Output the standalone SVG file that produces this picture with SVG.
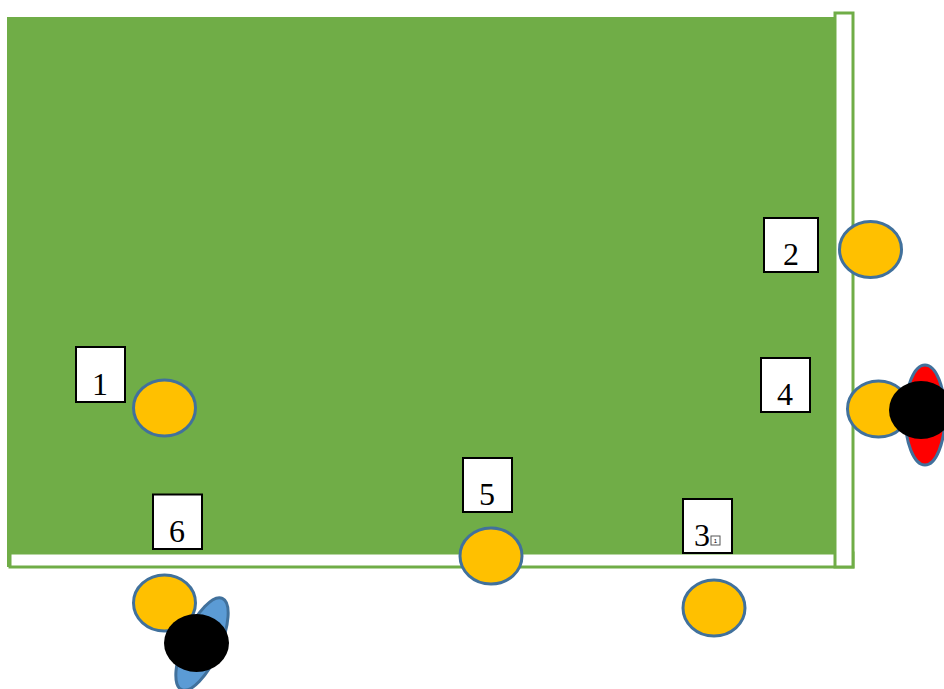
<svg xmlns="http://www.w3.org/2000/svg" width="944" height="689" viewBox="0 0 944 689">
<style>
.label{fill:#fff;stroke:#000;stroke-width:2}
.num{font-family:"Liberation Serif",serif;font-size:32px;fill:#000;text-anchor:middle}
.person{fill:#ffc000;stroke:#41719c;stroke-width:3}
.head{fill:#000}
.frame{fill:#fff;stroke:#70ad47;stroke-width:3}
</style>
<rect width="944" height="689" fill="#fff"/>
<g id="field">
<rect x="7" y="17" width="829" height="550" fill="#70ad47"/>
<rect class="frame" x="10" y="553" width="843" height="14"/>
<rect class="frame" x="835" y="13" width="18" height="554"/>
</g>
<g id="player-red"><ellipse cx="925" cy="415" rx="20" ry="50" fill="#f00" stroke="#41719c" stroke-width="3"/></g>
<g id="player-blue"><ellipse cx="202" cy="644" rx="18" ry="50" transform="rotate(24 202 644)" fill="#5b9bd5" stroke="#41719c" stroke-width="3"/></g>
<g id="node-1"><rect class="label" x="76" y="347" width="49" height="55"/><text class="num" x="100" y="394.500">1</text></g>
<g id="node-2"><rect class="label" x="764" y="218" width="54" height="54"/><text class="num" x="791" y="264.500">2</text></g>
<g id="node-3"><rect class="label" x="683" y="499" width="49" height="54"/><text class="num" x="702" y="545.500">3</text><rect x="711" y="536" width="9" height="9" fill="#fff" stroke="#555" stroke-width="1"/><text x="715.500" y="543" font-family="Liberation Sans,sans-serif" font-size="6" text-anchor="middle">1</text></g>
<g id="node-4"><rect class="label" x="761" y="358" width="49" height="54"/><text class="num" x="785" y="404.500">4</text></g>
<g id="node-5"><rect class="label" x="463" y="458" width="49" height="54"/><text class="num" x="487" y="504.500">5</text></g>
<g id="node-6"><rect class="label" x="153" y="494.500" width="49" height="54.500"/><text class="num" x="177" y="541.500">6</text></g>
<g id="circle-1"><ellipse class="person" cx="164.500" cy="408" rx="31" ry="28"/></g>
<g id="circle-2"><ellipse class="person" cx="870.500" cy="249.500" rx="31" ry="28"/></g>
<g id="circle-3"><ellipse class="person" cx="714" cy="608" rx="31" ry="28"/></g>
<g id="circle-4"><ellipse class="person" cx="878.500" cy="409" rx="31" ry="28"/></g>
<g id="circle-5"><ellipse class="person" cx="491" cy="556" rx="31" ry="28"/></g>
<g id="circle-6"><ellipse class="person" cx="164.500" cy="603" rx="31" ry="28"/></g>
<g id="head-red"><ellipse class="head" cx="921" cy="410" rx="32" ry="29"/></g>
<g id="head-blue"><ellipse class="head" cx="196.500" cy="643" rx="32.500" ry="29"/></g>
</svg>
